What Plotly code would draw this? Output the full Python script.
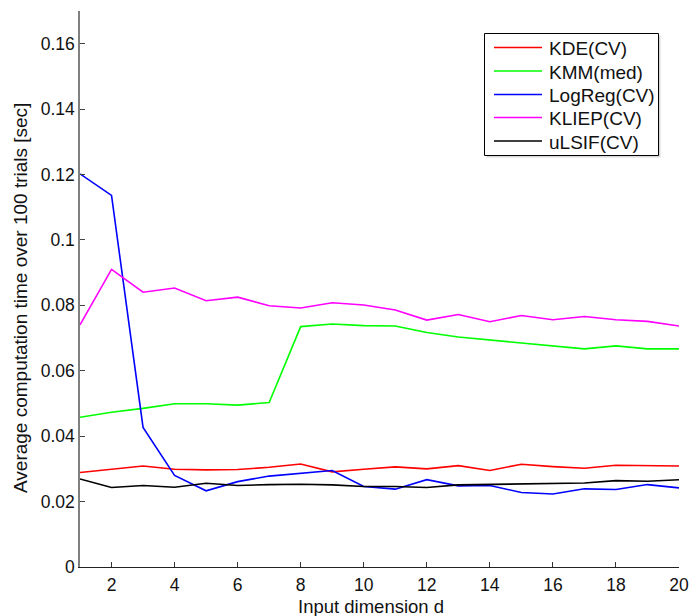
import plotly.graph_objects as go

# Input dimension d
dims = list(range(1, 21))

# Average computation time over 100 trials [sec]
kde_cv = [0.0289, 0.0299, 0.0309, 0.0299, 0.0297, 0.0298, 0.0305, 0.0315, 0.0291, 0.0299,
          0.0306, 0.0300, 0.0310, 0.0295, 0.0314, 0.0307, 0.0302, 0.0311, 0.0310, 0.0309]
kmm_med = [0.0458, 0.0473, 0.0485, 0.0499, 0.0499, 0.0495, 0.0503, 0.0735, 0.0743, 0.0738,
           0.0737, 0.0717, 0.0703, 0.0694, 0.0684, 0.0677, 0.0667, 0.0676, 0.0667, 0.0667]
logreg_cv = [0.1202, 0.1136, 0.0427, 0.0280, 0.0233, 0.0261, 0.0278, 0.0287, 0.0295, 0.0246,
             0.0238, 0.0267, 0.0248, 0.0249, 0.0228, 0.0223, 0.0239, 0.0237, 0.0252, 0.0242]
kliep_cv = [0.0740, 0.0910, 0.0840, 0.0853, 0.0814, 0.0825, 0.0799, 0.0792, 0.0808, 0.0801,
            0.0786, 0.0755, 0.0772, 0.0750, 0.0769, 0.0756, 0.0766, 0.0756, 0.0751, 0.0737]
ulsif_cv = [0.0269, 0.0243, 0.0249, 0.0244, 0.0256, 0.0249, 0.0252, 0.0253, 0.0251, 0.0246,
            0.0246, 0.0243, 0.0251, 0.0252, 0.0253, 0.0255, 0.0257, 0.0264, 0.0262, 0.0267]

series_names = ["KDE(CV)", "KMM(med)", "LogReg(CV)", "KLIEP(CV)", "uLSIF(CV)"]
series_values = [kde_cv, kmm_med, logreg_cv, kliep_cv, ulsif_cv]
series_colors = ["#ff0000", "#00ff00", "#0000ff", "#ff00ff", "#000000"]

x_tick_vals = list(range(2, 21, 2))
y_tick_vals = [0, 0.02, 0.04, 0.06, 0.08, 0.1, 0.12, 0.14, 0.16]
y_tick_text = ["0", "0.02", "0.04", "0.06", "0.08", "0.1", "0.12", "0.14", "0.16"]

FONT = "Liberation Sans, Arial, sans-serif"
W, H = 692, 616
ML, MR, MT, MB = 80, 13, 11, 49

fig = go.Figure()
for name, vals, col in zip(series_names, series_values, series_colors):
    fig.add_trace(go.Scatter(x=dims, y=vals, mode="lines", name=name,
                             line=dict(color=col, width=1.6), showlegend=False))

# legend box drawn in pixel-based paper coordinates
pw, ph = W - ML - MR, H - MT - MB
def px(x):
    return (x - ML) / pw
def py(y):
    return 1 - (y - MT) / ph

shapes = []
annotations = []
box_l, box_r, box_t, box_b = 484.5, 658.5, 33.5, 155.5
shapes.append(dict(type="rect", xref="paper", yref="paper",
                   x0=px(box_l + 2), x1=px(box_r + 2), y0=py(box_b + 2), y1=py(box_t + 2),
                   line=dict(width=0), fillcolor="#d8d8d8", layer="above"))
shapes.append(dict(type="rect", xref="paper", yref="paper",
                   x0=px(box_l), x1=px(box_r), y0=py(box_b), y1=py(box_t),
                   line=dict(color="black", width=1), fillcolor="white", layer="above"))
row_y = [47.5, 71, 94.5, 117.5, 141]
for name, col, ry in zip(series_names, series_colors, row_y):
    shapes.append(dict(type="line", xref="paper", yref="paper",
                       x0=px(494), x1=px(542), y0=py(ry), y1=py(ry),
                       line=dict(color=col, width=1.6), layer="above"))
    annotations.append(dict(text=name, xref="paper", yref="paper", x=px(547), y=py(ry + 1),
                            xanchor="left", yanchor="middle", showarrow=False,
                            font=dict(family=FONT, size=19, color="#111111")))

# axis titles
annotations.append(dict(text="Input dimension d", xref="paper", yref="paper",
                        x=px(371), y=py(606), xanchor="center", yanchor="middle",
                        showarrow=False, borderpad=0,
                        font=dict(family=FONT, size=18.5, color="#111111")))
annotations.append(dict(text="Average computation time over 100 trials [sec]",
                        xref="paper", yref="paper", x=px(20), y=py(298),
                        xanchor="center", yanchor="middle", textangle=-90,
                        showarrow=False, font=dict(family=FONT, size=19, color="#111111")))

fig.update_layout(
    width=W, height=H, autosize=False,
    margin=dict(l=ML, r=MR, t=MT, b=MB, pad=0, autoexpand=False),
    paper_bgcolor="white", plot_bgcolor="white",
    font=dict(family=FONT, size=17.5, color="#111111"),
    shapes=shapes, annotations=annotations,
    showlegend=False,
)
fig.update_xaxes(range=[1, 20], tickvals=x_tick_vals, ticks="inside", ticklen=5,
                 tickcolor="#333333", showline=True, linecolor="#222222", linewidth=1,
                 showgrid=False, zeroline=False, mirror=False, ticklabelstandoff=2,
                 automargin=False)
fig.update_yaxes(range=[0, 0.17], tickvals=y_tick_vals, ticktext=y_tick_text,
                 ticks="inside", ticklen=5, tickcolor="#444444", showline=True,
                 linecolor="#808080", linewidth=1.5, showgrid=False, zeroline=False,
                 mirror=False, ticklabelstandoff=0, automargin=False)

fig.write_html("out.html", config={"responsive": False})
